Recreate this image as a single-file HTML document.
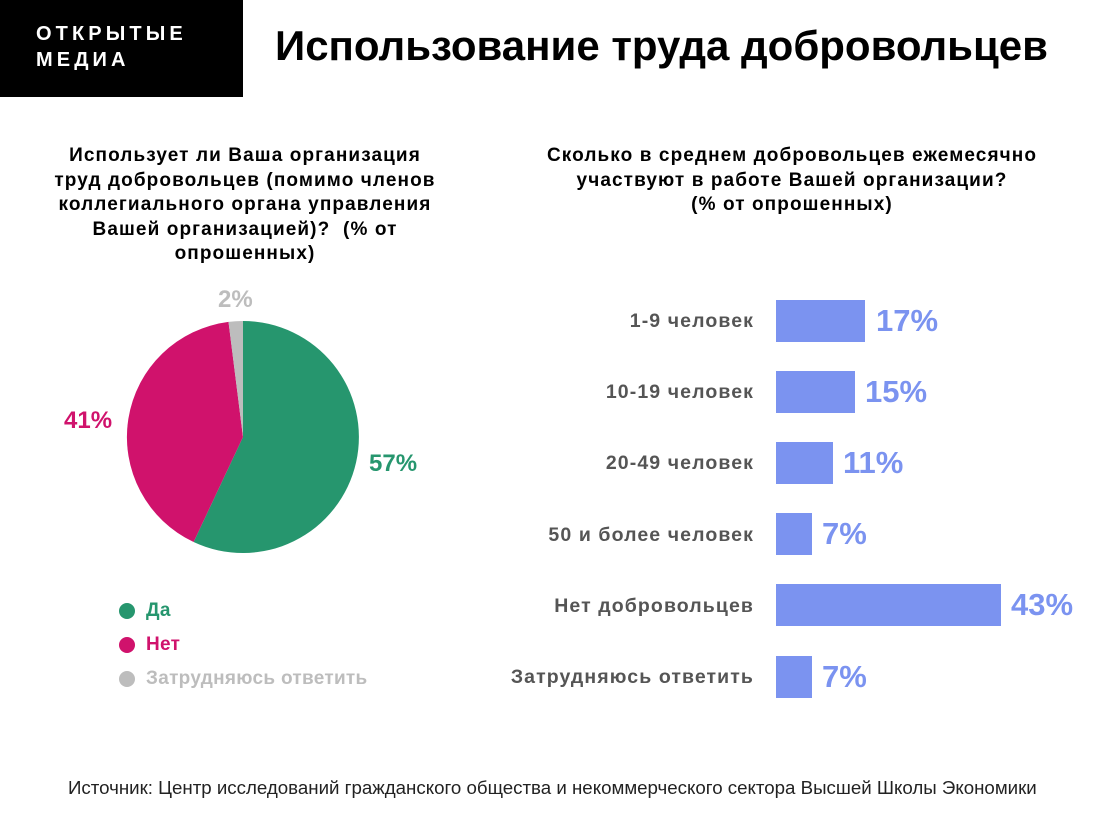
<!DOCTYPE html>
<html><head><meta charset="utf-8"><style>
body{margin:0;width:1109px;height:815px;background:#fff;font-family:"Liberation Sans","DejaVu Sans",sans-serif;position:relative;overflow:hidden}
.a{position:absolute;white-space:nowrap}
</style></head><body>
<div class="a" style="left:0;top:0;width:243px;height:97px;background:#000"></div>
<div class="a" style="left:36px;top:21px;color:#fff;font-weight:bold;font-size:20px;letter-spacing:4.1px;line-height:26px">ОТКРЫТЫЕ<br>МЕДИА</div>
<div class="a" style="left:275px;top:22px;font-weight:bold;font-size:42px;color:#000">Использование труда добровольцев</div>
<div class="a" style="left:0px;top:144px;width:490px;text-align:center;font-weight:bold;font-size:19px;letter-spacing:1.1px;line-height:24.5px">Использует ли Ваша организация<br>труд добровольцев (помимо членов<br>коллегиального органа управления<br>Вашей организацией)?&nbsp; (% от<br>опрошенных)</div>
<div class="a" style="left:492px;top:144px;width:600px;text-align:center;font-weight:bold;font-size:19px;letter-spacing:1.1px;line-height:24.5px">Сколько в среднем добровольцев ежемесячно<br>участвуют в работе Вашей организации?<br>(% от опрошенных)</div>
<svg class="a" style="left:0;top:0" width="1109" height="815">
<path d="M243,437 L243,321 A116,116 0 1,1 193.6,542 Z" fill="#26966e"/>
<path d="M243,437 L193.6,542 A116,116 0 0,1 228.5,321.9 Z" fill="#d0126c"/>
<path d="M243,437 L228.5,321.9 A116,116 0 0,1 243,321 Z" fill="#bdbdbd"/>
<circle cx="127" cy="611" r="8" fill="#26966e"/>
<circle cx="127" cy="645" r="8" fill="#d0126c"/>
<circle cx="127" cy="679" r="8" fill="#bdbdbd"/>
<g fill="#7b93f0">
<rect x="776" y="300" width="89" height="42"/>
<rect x="776" y="371" width="79" height="42"/>
<rect x="776" y="442" width="57" height="42"/>
<rect x="776" y="513" width="36" height="42"/>
<rect x="776" y="584" width="225" height="42"/>
<rect x="776" y="656" width="36" height="42"/>
</g>
</svg>
<div class="a" style="left:218px;top:286px;font-size:24px;font-weight:bold;color:#bdbdbd">2%</div>
<div class="a" style="left:64px;top:407px;font-size:24px;font-weight:bold;color:#d0126c">41%</div>
<div class="a" style="left:369px;top:450px;font-size:24px;font-weight:bold;color:#26966e">57%</div>
<div class="a" style="left:146px;top:600px;font-size:19px;font-weight:bold;color:#26966e;letter-spacing:0.3px">Да</div>
<div class="a" style="left:146px;top:634px;font-size:19px;font-weight:bold;color:#d0126c;letter-spacing:0.3px">Нет</div>
<div class="a" style="left:146px;top:668px;font-size:19px;font-weight:bold;color:#bdbdbd;letter-spacing:0.3px">Затрудняюсь ответить</div>
<div class="a" style="right:355px;top:286px;font-size:19.5px;font-weight:bold;color:#555;text-align:right;line-height:71.2px;letter-spacing:1.1px">1-9 человек<br>10-19 человек<br>20-49 человек<br>50 и более человек<br>Нет добровольцев<br>Затрудняюсь ответить</div>
<div class="a" style="left:876px;top:303px;font-size:31px;font-weight:bold;color:#7b93f0">17%</div>
<div class="a" style="left:865px;top:374px;font-size:31px;font-weight:bold;color:#7b93f0">15%</div>
<div class="a" style="left:843px;top:445px;font-size:31px;font-weight:bold;color:#7b93f0">11%</div>
<div class="a" style="left:822px;top:516px;font-size:31px;font-weight:bold;color:#7b93f0">7%</div>
<div class="a" style="left:1011px;top:587px;font-size:31px;font-weight:bold;color:#7b93f0">43%</div>
<div class="a" style="left:822px;top:659px;font-size:31px;font-weight:bold;color:#7b93f0">7%</div>
<div class="a" style="left:68px;top:777px;font-size:18.7px;color:#222">Источник: Центр исследований гражданского общества и некоммерческого сектора Высшей Школы Экономики</div>
</body></html>
